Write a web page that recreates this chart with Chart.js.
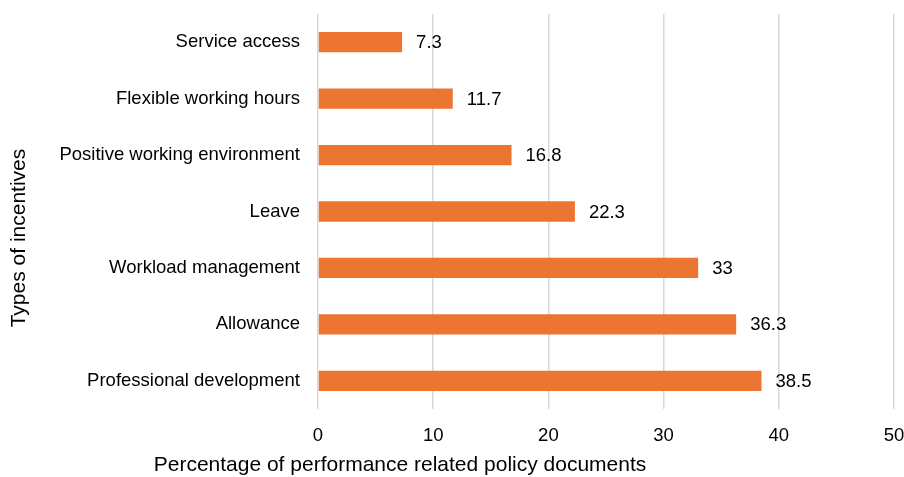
<!DOCTYPE html>
<html>
<head>
<meta charset="utf-8">
<script src="https://cdn.jsdelivr.net/npm/chart.js@4.4.1/dist/chart.umd.min.js"></script>
<style>
  html, body { margin: 0; padding: 0; background: #fff; }
  #wrap { width: 904px; height: 477px; }
</style>
</head>
<body>
<div id="wrap"><canvas id="chart"></canvas></div>
<script>
// incentive types, top to bottom
const categories = [
    'Service access',
    'Flexible working hours',
    'Positive working environment',
    'Leave',
    'Workload management',
    'Allowance',
    'Professional development'
];
const percentages = [7.3, 11.7, 16.8, 22.3, 33, 36.3, 38.5];
const xTicks = [0, 10, 20, 30, 40, 50];
const xTitle = 'Percentage of performance related policy documents';
const yTitle = 'Types of incentives';

const font = 'Liberation Sans, Arial, Helvetica, sans-serif';

// value next to each bar, plus both axis titles
const annotations = {
    id: 'annotations',
    afterDraw(chart) {
        const ctx = chart.ctx;
        const meta = chart.getDatasetMeta(0);
        ctx.save();
        ctx.fillStyle = '#000';
        ctx.font = '18.5px ' + font;
        ctx.textAlign = 'left';
        ctx.textBaseline = 'middle';
        meta.data.forEach((bar, i) => {
            ctx.fillText(String(percentages[i]), bar.x + 14, bar.y + 1);
        });

        ctx.font = '21px ' + font;
        ctx.textAlign = 'center';
        ctx.fillText(xTitle, 400, 465);

        ctx.translate(19, 238);
        ctx.rotate(-Math.PI / 2);
        ctx.fillText(yTitle, 0, 0);
        ctx.restore();
    }
};

const ctx = document.getElementById('chart').getContext('2d');
new Chart(ctx, {
    type: 'bar',
    data: {
        labels: categories,
        datasets: [{
            data: percentages,
            backgroundColor: '#ED7532',
            barPercentage: 0.36,
            categoryPercentage: 1
        }]
    },
    options: {
        indexAxis: 'y',
        responsive: true,
        maintainAspectRatio: false,
        animation: false,
        layout: { padding: { top: 14, right: 10, left: 0, bottom: 0 } },
        plugins: {
            legend: { display: false },
            tooltip: { enabled: false }
        },
        scales: {
            x: {
                min: 0,
                max: 50,
                afterBuildTicks(scale) {
                    scale.ticks = xTicks.map(v => ({ value: v }));
                },
                grid: { color: '#d9d9d9', lineWidth: 1.5, drawTicks: false },
                border: { display: false },
                ticks: { color: '#000', padding: 16, font: { family: font, size: 18.5 } },
                afterFit(scale) {
                    scale.height = 68;
                    scale.paddingLeft = 0;
                    scale.paddingRight = 0;
                }
            },
            y: {
                grid: { display: false, drawTicks: false },
                border: { display: false },
                ticks: { color: '#000', padding: 18, font: { family: font, size: 18.5 } },
                afterFit(scale) {
                    scale.width = 318;
                    scale.paddingTop = 0;
                    scale.paddingBottom = 0;
                }
            }
        }
    },
    plugins: [annotations]
});
</script>
</body>
</html>
